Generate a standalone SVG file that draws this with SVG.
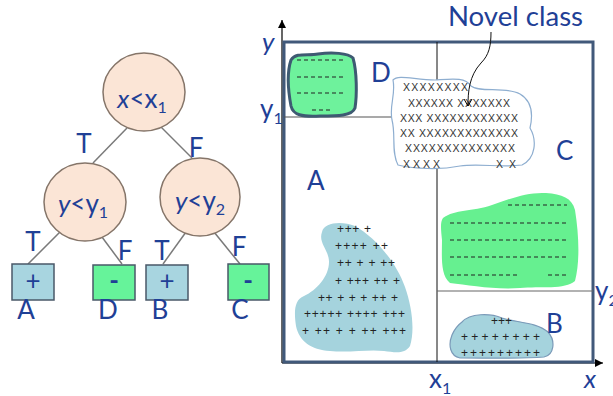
<svg xmlns="http://www.w3.org/2000/svg" width="613" height="396" viewBox="0 0 613 396">
<defs>
<style>
.lbl{font-family:Lato,"Liberation Sans",sans-serif;fill:#1f4096;font-size:26px}
.node circle,.node ellipse{fill:#fbe5d6;stroke:#857569;stroke-width:1.5}
.leafb rect{fill:#a8d5e0;stroke:#4a5868;stroke-width:1.5}
.leafg rect{fill:#66f39a;stroke:#4a5868;stroke-width:1.5}
.edge{stroke:#7a7a7a;stroke-width:1.5;fill:none}
.dash{stroke:#222;stroke-width:1;stroke-dasharray:4 3}
.px{font-family:"Liberation Sans",sans-serif;font-size:12px;fill:#222}
.xx{font-family:"Liberation Sans",sans-serif;font-size:10.5px;fill:#333}
.sub{font-size:16px}
</style>
<marker id="ah" markerWidth="10" markerHeight="10" refX="9" refY="5" orient="auto" markerUnits="userSpaceOnUse">
<path d="M1,1 L9,5 L1,9 Z" fill="#000"/>
</marker>
<marker id="oa" markerWidth="10" markerHeight="10" refX="8" refY="5" orient="auto" markerUnits="userSpaceOnUse">
<path d="M1,1 L8,5 L1,9" fill="none" stroke="#000" stroke-width="1"/>
</marker>
</defs>
<rect width="613" height="396" fill="#fff"/>

<!-- tree connectors -->
<g id="tree-edges">
<line class="edge" x1="127" y1="128" x2="93" y2="163"/>
<line class="edge" x1="160" y1="126" x2="192" y2="158"/>
<line class="edge" x1="60" y1="232" x2="28" y2="264"/>
<line class="edge" x1="99" y1="233" x2="122" y2="264"/>
<line class="edge" x1="186" y1="232" x2="163" y2="264"/>
<line class="edge" x1="214" y1="232" x2="240" y2="264"/>
<text class="lbl" x="84" y="153" text-anchor="middle">T</text>
<text class="lbl" x="196" y="157" text-anchor="middle">F</text>
<text class="lbl" x="33" y="251" text-anchor="middle" font-size="25">T</text>
<text class="lbl" x="125" y="260" text-anchor="middle" font-size="25">F</text>
<text class="lbl" x="162" y="260" text-anchor="middle" font-size="25">T</text>
<text class="lbl" x="239" y="256" text-anchor="middle" font-size="25">F</text>
</g>

<g id="root" class="node">
<ellipse cx="144" cy="92" rx="41" ry="39"/>
<text class="lbl" x="142" y="108" text-anchor="middle" font-size="28"><tspan font-style="italic">x</tspan>&lt;x<tspan class="sub" dy="5">1</tspan></text>
</g>
<g id="n-left" class="node">
<ellipse cx="85" cy="202" rx="41" ry="39"/>
<text class="lbl" x="83" y="213" text-anchor="middle" font-size="28"><tspan font-style="italic">y</tspan>&lt;y<tspan class="sub" dy="5">1</tspan></text>
</g>
<g id="n-right" class="node">
<ellipse cx="200" cy="197" rx="40" ry="39"/>
<text class="lbl" x="200" y="210" text-anchor="middle" font-size="28"><tspan font-style="italic">y</tspan>&lt;y<tspan class="sub" dy="5">2</tspan></text>
</g>

<g id="leaf-A" class="leafb">
<rect x="12" y="264" width="42" height="36"/>
<text class="lbl" x="33" y="290" text-anchor="middle" font-size="22">+</text>
<text class="lbl" x="26" y="319" text-anchor="middle">A</text>
</g>
<g id="leaf-D" class="leafg">
<rect x="93" y="265" width="42" height="35"/>
<text class="lbl" x="114" y="290" text-anchor="middle" font-size="24" font-weight="bold">-</text>
<text class="lbl" x="108" y="319" text-anchor="middle">D</text>
</g>
<g id="leaf-B" class="leafb">
<rect x="146" y="265" width="42" height="35"/>
<text class="lbl" x="167" y="290" text-anchor="middle" font-size="22">+</text>
<text class="lbl" x="160" y="319" text-anchor="middle">B</text>
</g>
<g id="leaf-C" class="leafg">
<rect x="228" y="264" width="41" height="36"/>
<text class="lbl" x="248" y="290" text-anchor="middle" font-size="24" font-weight="bold">-</text>
<text class="lbl" x="240" y="319" text-anchor="middle">C</text>
</g>

<!-- feature space plot -->
<g id="plot">
<line x1="282" y1="363" x2="282" y2="20" stroke="#000" stroke-width="1.2" marker-end="url(#ah)"/>
<line x1="282" y1="363" x2="603" y2="363" stroke="#000" stroke-width="1.2" marker-end="url(#ah)"/>
<rect x="284" y="42" width="309" height="320" fill="none" stroke="#41597a" stroke-width="3"/>
<line x1="437" y1="42" x2="437" y2="362" stroke="#111" stroke-width="1"/>
<line x1="284" y1="117" x2="437" y2="117" stroke="#555" stroke-width="1.2"/>
<line x1="437" y1="291" x2="593" y2="291" stroke="#666" stroke-width="1.2"/>
</g>

<g id="region-D">
<path d="M291,60 C296,52 308,56 318,54 C332,52 348,53 353,58 C357,72 357,95 355,108 C352,116 338,116 320,116 C302,117 293,115 291,106 C288,90 287,72 291,60 Z" fill="#6ef29c" stroke="#3e5a72" stroke-width="3"/>
<line class="dash" x1="297" y1="60" x2="345" y2="60"/>
<line class="dash" x1="297" y1="77" x2="345" y2="77"/>
<line class="dash" x1="297" y1="93" x2="345" y2="93"/>
<line class="dash" x1="312" y1="110" x2="330" y2="110"/>
<text class="lbl" x="371" y="82">D</text>
</g>

<g id="novel-class">
<path d="M393,80 C398,74 415,80 435,80 C452,79 465,77 471,86 C480,93 505,86 520,94 C532,101 533,115 530,128 C537,140 536,158 522,165 C500,168 480,163 460,166 C440,170 415,169 398,165 C391,152 396,135 392,120 C389,105 396,95 393,80 Z" fill="#fff" stroke="#8eaed0" stroke-width="1.2"/>
<text class="xx" x="403" y="91" textLength="65" lengthAdjust="spacing">XXXXXXXX</text>
<text class="xx" x="408" y="107" textLength="102" lengthAdjust="spacing">XXXXXX XXXXXXX</text>
<text class="xx" x="400" y="122" textLength="118" lengthAdjust="spacing">XXX XXXXXXXXXXXX</text>
<text class="xx" x="400" y="137" textLength="118" lengthAdjust="spacing">XX XXXXXXXXXXXXX</text>
<text class="xx" x="405" y="152" textLength="110" lengthAdjust="spacing">XXXXXXXXXXXXXX</text>
<text class="xx" x="403" y="168" textLength="37" lengthAdjust="spacing">XXXX</text>
<text class="xx" x="496" y="168" textLength="20" lengthAdjust="spacing">X X</text>
</g>

<g id="connectors">
<path d="M491,32 C491,46 489,55 481,63 C469,76 468,92 468,106" fill="none" stroke="#111" stroke-width="1" marker-end="url(#oa)"/>
</g>
<text class="lbl" x="448" y="26" font-size="27" textLength="135" lengthAdjust="spacingAndGlyphs">Novel class</text>

<g id="region-C">
<path d="M443,218 C455,209 472,212 492,205 C512,198 528,192 546,193 C562,194 572,198 575,210 C579,235 580,262 575,281 C565,290 540,286 520,288 C495,290 468,285 450,283 C440,275 442,255 442,240 C441,230 440,222 443,218 Z" fill="#66f090"/>
<line class="dash" x1="508" y1="205" x2="567" y2="205"/>
<line class="dash" x1="450" y1="223" x2="568" y2="223"/>
<line class="dash" x1="450" y1="240" x2="567" y2="240"/>
<line class="dash" x1="450" y1="257" x2="567" y2="257"/>
<line class="dash" x1="450" y1="275" x2="518" y2="275"/>
<line class="dash" x1="548" y1="275" x2="568" y2="275"/>
<text class="lbl" x="556" y="160">C</text>
</g>

<g id="region-A">
<path d="M322,232 C324,222 342,221 355,226 C376,238 396,262 405,287 C412,307 415,330 410,346 C404,355 394,352 384,351 C368,349 350,353 330,351 C311,350 299,341 296,326 C294,312 294,300 304,296 C317,290 329,276 329,262 C329,250 318,243 322,232 Z" fill="#a5d3dd"/>
<text class="px" x="337" y="233" textLength="34" lengthAdjust="spacing">+++ +</text>
<text class="px" x="335" y="250" textLength="53" lengthAdjust="spacing">++++ ++</text>
<text class="px" x="337" y="267" textLength="58" lengthAdjust="spacing">++ + + ++</text>
<text class="px" x="335" y="285" textLength="65" lengthAdjust="spacing">+ +++ ++ +</text>
<text class="px" x="318" y="302" textLength="80" lengthAdjust="spacing">++ + + + ++ +</text>
<text class="px" x="304" y="318" textLength="101" lengthAdjust="spacing">+++++ ++++ +++</text>
<text class="px" x="302" y="335" textLength="104" lengthAdjust="spacing">+ ++ +  + ++ +++</text>
<text class="lbl" x="307" y="190">A</text>
</g>

<g id="region-B">
<path d="M462,322 C470,313 490,313 502,318 C518,323 536,322 548,332 C556,341 554,355 544,357 C520,359 490,358 460,358 C450,356 448,345 452,335 C455,328 458,325 462,322 Z" fill="#a5d3dd" stroke="#7a9ab8" stroke-width="1.2"/>
<text class="px" x="491" y="325" font-size="10" textLength="21" lengthAdjust="spacing">+++</text>
<text class="px" x="461" y="341" font-size="10" textLength="79" lengthAdjust="spacing">++++++++</text>
<text class="px" x="461" y="357" font-size="10" textLength="79" lengthAdjust="spacing">+++++++++</text>
<text class="lbl" x="546" y="333">B</text>
</g>

<g id="axis-labels">
<text class="lbl" x="262" y="51" font-style="italic">y</text>
<text class="lbl" x="260" y="118">y<tspan class="sub" dy="6">1</tspan></text>
<text class="lbl" x="429" y="388">x<tspan class="sub" dy="6">1</tspan></text>
<text class="lbl" x="584" y="388" font-style="italic">x</text>
<text class="lbl" x="595" y="300">y<tspan class="sub" dy="6">2</tspan></text>
</g>
</svg>
